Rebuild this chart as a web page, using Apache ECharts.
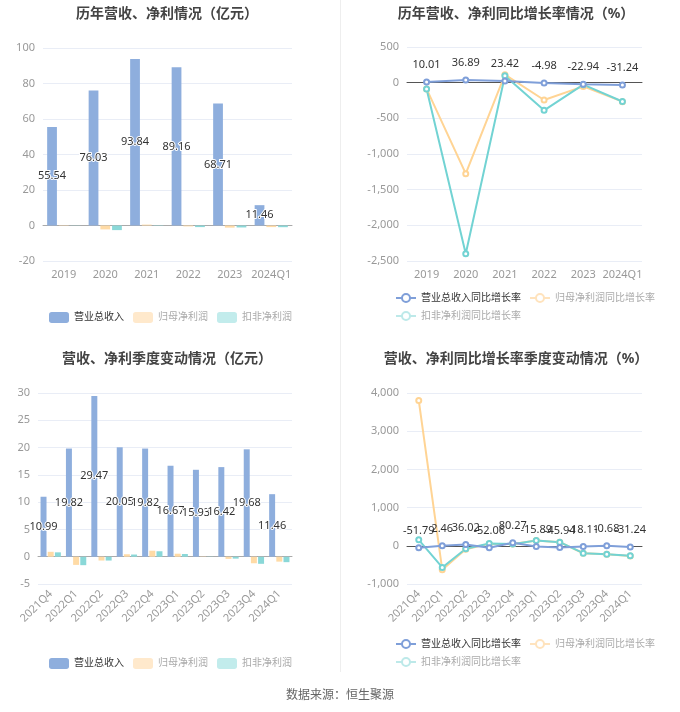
<!DOCTYPE html>
<html><head><meta charset="utf-8">
<script src="https://cdn.jsdelivr.net/npm/echarts@6/dist/echarts.min.js"></script>
<style>html,body{margin:0;padding:0;background:#fff}#c{width:680px;height:712px}</style>
</head><body><div id="c"></div>
<script>
var yearCats = ['2019','2020','2021','2022','2023','2024Q1'];
var yearRevenue = [55.54, 76.03, 93.84, 89.16, 68.71, 11.46];
var yearNetProfit = [0.2, -2.2, 0.5, -0.5, -1.2, -0.9];
var yearDeductProfit = [0.1, -2.6, 0.2, -0.9, -1.1, -0.95];
var yearRevenueGrowth = [10.01, 36.89, 23.42, -4.98, -22.94, -31.24];
var yearNetGrowth = [-88, -1276, 112, -243, -52, -266];
var yearDeductGrowth = [-90, -2398, 98, -388, -28, -264];

var qCats = ['2021Q4','2022Q1','2022Q2','2022Q3','2022Q4','2023Q1','2023Q2','2023Q3','2023Q4','2024Q1'];
var qRevenue = [10.99, 19.82, 29.47, 20.05, 19.82, 16.67, 15.93, 16.42, 19.68, 11.46];
var qNetProfit = [0.9, -1.5, -0.7, 0.45, 1.1, 0.55, 0.05, -0.4, -1.2, -0.9];
var qDeductProfit = [0.8, -1.55, -0.7, 0.4, 1.0, 0.5, 0.04, -0.35, -1.3, -1.0];
var qRevenueGrowth = [-51.79, 2.46, 36.02, -52.06, 80.27, -15.89, -45.94, -18.11, -0.68, -31.24];
var qNetGrowth = [3804, -628, -90, 50, 50, 140, 96, -195, -220, -265];
var qDeductGrowth = [157, -567, -79, 60, 44, 140, 96, -192, -218, -262];

var FONT = "'Noto Sans','Noto Sans CJK SC',sans-serif";
var cBlue = '#8eaedd', cOrange = '#ffdba6', cCyan = '#8ad8d8';
var lBlue = '#7f9fd9', lOrange = '#ffd494', lCyan = '#72d3d3';

function yAxis(gi, min, max, interval) {
  return {type:'value', gridIndex:gi, min:min, max:max, interval:interval,
    axisLine:{show:false}, axisTick:{show:false},
    axisLabel:{color:'#999', fontSize:11, fontFamily:FONT},
    splitLine:{lineStyle:{color:'#e9edf6'}}};
}
function xAxis(gi, cats, rotate, lineColor) {
  return {type:'category', gridIndex:gi, data:cats,
    axisLine:{lineStyle:{color:lineColor}}, axisTick:{lineStyle:{color:lineColor}},
    axisLabel:{color:'#999', fontSize:11, fontFamily:FONT, rotate:rotate, margin:8, interval:0}};
}
var barLabel = {show:true, position:'inside', color:'#333', fontSize:11, fontFamily:FONT, textBorderColor:'#fff', textBorderWidth:2};
var lineLabel = {show:true, position:'top', color:'#333', fontSize:11, fontFamily:FONT, distance:8};

function barSeries(name, data, color, xi, label) {
  return {name:name, type:'bar', xAxisIndex:xi, yAxisIndex:xi, data:data,
    itemStyle:{color:color}, barCategoryGap:'20%', barGap:'20%', label:label || {show:false}};
}
function lineSeries(name, data, color, xi, label) {
  return {name:name, type:'line', xAxisIndex:xi, yAxisIndex:xi, data:data,
    symbol:'emptyCircle', symbolSize:5, lineStyle:{color:color, width:2},
    itemStyle:{color:color}, label:label || {show:false}};
}
var titleStyle = {fontSize:14, fontWeight:'bold', color:'#444', fontFamily:FONT};

var barLegendData = [
  {name:'营业总收入', itemStyle:{color:cBlue}, textStyle:{color:'#333'}},
  {name:'归母净利润', itemStyle:{color:'#ffe9cc'}, textStyle:{color:'#aaa'}},
  {name:'扣非净利润', itemStyle:{color:'#c2ecec'}, textStyle:{color:'#aaa'}}
];
var lineLegendData = [
  {name:'营业总收入同比增长率', itemStyle:{color:lBlue, borderColor:lBlue}, lineStyle:{color:lBlue}, textStyle:{color:'#333'}},
  {name:'归母净利润同比增长率', itemStyle:{color:'#ffe3bd', borderColor:'#ffe3bd'}, lineStyle:{color:'#ffe3bd'}, textStyle:{color:'#aaa'}},
  {name:'扣非净利润同比增长率', itemStyle:{color:'#bde9e9', borderColor:'#bde9e9'}, lineStyle:{color:'#bde9e9'}, textStyle:{color:'#aaa'}}
];
function barLegend(top) {
  return {data:barLegendData, left:44, top:top, itemWidth:20, itemHeight:11, itemGap:9,
    icon:'roundRect', textStyle:{fontSize:10, fontFamily:FONT}, selectedMode:false};
}
function lineLegend(top) {
  return {data:lineLegendData, left:390, top:top, width:265, itemWidth:20, itemHeight:10, itemGap:8,
    textStyle:{fontSize:10, fontFamily:FONT}, selectedMode:false};
}

var option = {
  animation:false,
  textStyle:{fontFamily:FONT},
  title:[
    {text:'历年营收、净利情况（亿元）', left:162, top:2, textAlign:'center', textStyle:titleStyle},
    {text:'历年营收、净利同比增长率情况（%）', left:511, top:2, textAlign:'center', textStyle:titleStyle},
    {text:'营收、净利季度变动情况（亿元）', left:162, top:347, textAlign:'center', textStyle:titleStyle},
    {text:'营收、净利同比增长率季度变动情况（%）', left:511, top:347, textAlign:'center', textStyle:titleStyle}
  ],
  legend:[
    barLegend(307),
    lineLegend(288),
    barLegend(653),
    lineLegend(634)
  ],
  grid:[
    {left:43, right:388, top:48, bottom:451},
    {left:407, right:38, top:47, bottom:451},
    {left:38, right:388, top:393, bottom:128},
    {left:407, right:38, top:393, bottom:128}
  ],
  xAxis:[
    xAxis(0, yearCats, 0, '#aaa'),
    xAxis(1, yearCats, 0, '#555'),
    xAxis(2, qCats, 45, '#aaa'),
    xAxis(3, qCats, 45, '#555')
  ],
  yAxis:[
    yAxis(0, -20, 100, 20),
    yAxis(1, -2500, 500, 500),
    yAxis(2, -5, 30, 5),
    yAxis(3, -1000, 4000, 1000)
  ],
  series:[
    barSeries('营业总收入', yearRevenue, cBlue, 0, barLabel),
    barSeries('归母净利润', yearNetProfit, cOrange, 0),
    barSeries('扣非净利润', yearDeductProfit, cCyan, 0),
    lineSeries('归母净利润同比增长率', yearNetGrowth, lOrange, 1),
    lineSeries('扣非净利润同比增长率', yearDeductGrowth, lCyan, 1),
    lineSeries('营业总收入同比增长率', yearRevenueGrowth, lBlue, 1, lineLabel),
    barSeries('营业总收入', qRevenue, cBlue, 2, barLabel),
    barSeries('归母净利润', qNetProfit, cOrange, 2),
    barSeries('扣非净利润', qDeductProfit, cCyan, 2),
    lineSeries('归母净利润同比增长率', qNetGrowth, lOrange, 3),
    lineSeries('扣非净利润同比增长率', qDeductGrowth, lCyan, 3),
    lineSeries('营业总收入同比增长率', qRevenueGrowth, lBlue, 3, lineLabel)
  ],
  graphic:[
    {type:'line', shape:{x1:340.5, y1:0, x2:340.5, y2:672}, style:{stroke:'#eeeeee', lineWidth:1}},
    {type:'text', left:'center', top:690, style:{text:'数据来源：恒生聚源', fill:'#666', fontSize:12, fontFamily:FONT}}
  ]
};
var chart = echarts.init(document.getElementById('c'));
chart.setOption(option);
</script></body></html>
